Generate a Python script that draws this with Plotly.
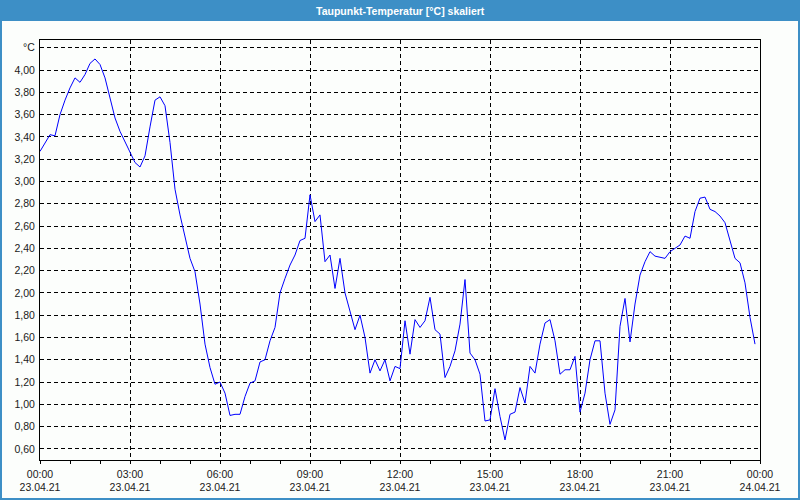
import pandas as pd
import plotly.graph_objects as go

# ---- data -------------------------------------------------------------
start_time = "2021-04-23 00:00"
step_minutes = 10
dewpoint = [
    3.27, 3.34, 3.42, 3.41, 3.60, 3.73, 3.84, 3.93, 3.89, 3.96,
    4.06, 4.10, 4.05, 3.93, 3.76, 3.57, 3.45, 3.36, 3.27, 3.17,
    3.13, 3.23, 3.49, 3.73, 3.76, 3.68, 3.35, 2.93, 2.70, 2.50,
    2.31, 2.19, 1.90, 1.54, 1.33, 1.18, 1.20, 1.10, 0.90, 0.91,
    0.91, 1.07, 1.19, 1.21, 1.38, 1.40, 1.57, 1.69, 2.00, 2.13,
    2.25, 2.34, 2.47, 2.49, 2.88, 2.64, 2.70, 2.28, 2.34, 2.04,
    2.31, 2.00, 1.83, 1.67, 1.80, 1.60, 1.28, 1.40, 1.30, 1.40,
    1.21, 1.34, 1.32, 1.75, 1.45, 1.76, 1.69, 1.75, 1.96, 1.67,
    1.63, 1.24, 1.34, 1.48, 1.72, 2.12, 1.46, 1.40, 1.27, 0.85,
    0.86, 1.14, 0.89, 0.68, 0.91, 0.93, 1.15, 1.01, 1.34, 1.28,
    1.54, 1.73, 1.76, 1.57, 1.27, 1.31, 1.31, 1.43, 0.93, 1.10,
    1.40, 1.57, 1.57, 1.10, 0.82, 0.95, 1.70, 1.95, 1.56, 1.90,
    2.16, 2.28, 2.37, 2.33, 2.32, 2.31, 2.37, 2.40, 2.43, 2.51,
    2.49, 2.73, 2.85, 2.86, 2.75, 2.73, 2.69, 2.63, 2.46, 2.31,
    2.27, 2.09, 1.78, 1.54,
]
times = pd.date_range(start_time, periods=len(dewpoint), freq=f"{step_minutes}min")

x_tick_values = ["2021-04-23 00:00", "2021-04-23 03:00", "2021-04-23 06:00",
                 "2021-04-23 09:00", "2021-04-23 12:00", "2021-04-23 15:00",
                 "2021-04-23 18:00", "2021-04-23 21:00", "2021-04-24 00:00"]
x_tick_labels = ["00:00<br>23.04.21", "03:00<br>23.04.21", "06:00<br>23.04.21",
                 "09:00<br>23.04.21", "12:00<br>23.04.21", "15:00<br>23.04.21",
                 "18:00<br>23.04.21", "21:00<br>23.04.21", "00:00<br>24.04.21"]
y_tick_values = [0.6, 0.8, 1.0, 1.2, 1.4, 1.6, 1.8, 2.0, 2.2, 2.4,
                 2.6, 2.8, 3.0, 3.2, 3.4, 3.6, 3.8, 4.0, 4.2]
y_tick_labels = ["0,60", "0,80", "1,00", "1,20", "1,40", "1,60", "1,80", "2,00",
                 "2,20", "2,40", "2,60", "2,80", "3,00", "3,20", "3,40", "3,60",
                 "3,80", "4,00", "°C"]
title_text = "Taupunkt-Temperatur [°C] skaliert"

# ---- figure -----------------------------------------------------------
W, H = 800, 500
ML, MR, MT, MB = 40, 40, 40, 40
PW, PH = W - ML - MR, H - MT - MB

def px_x(px):
    return (px - ML) / PW

def px_y(py):
    return (H - MB - py) / PH

BLUE = "#3d8fc6"
BG = "#fcfefc"
FONT = "Liberation Sans"

fig = go.Figure()
fig.add_trace(go.Scatter(x=times, y=dewpoint, mode="lines",
                         line=dict(color="#0000ff", width=1), showlegend=False))

axis_common = dict(
    showgrid=True, gridcolor="black", gridwidth=1, griddash="4px,3px",
    showline=True, linecolor="black", linewidth=1, mirror=True,
    zeroline=False, automargin=False,
)

fig.update_layout(
    width=W, height=H, autosize=False,
    margin=dict(l=ML, r=MR, t=MT, b=MB, autoexpand=False),
    paper_bgcolor=BG, plot_bgcolor=BG,
    xaxis=dict(
        type="date",
        range=["2021-04-23 00:00", "2021-04-24 00:00"],
        tickmode="array", tickvals=x_tick_values, ticktext=x_tick_labels,
        ticks="outside", ticklen=3, tickcolor="black", ticklabelstandoff=1,
        tickfont=dict(family=FONT, size=10.5, color="#1a1a1a"),
        minor=dict(ticks="outside", ticklen=3, tickcolor="black",
                   dtick=3600000, showgrid=False),
        **axis_common,
    ),
    yaxis=dict(
        range=[0.5, 4.27],
        tickmode="array", tickvals=y_tick_values, ticktext=y_tick_labels,
        ticks="", ticklabelstandoff=2,
        tickfont=dict(family=FONT, size=10.5, color="#1a1a1a"),
        **axis_common,
    ),
    shapes=[
        dict(type="rect", xref="paper", yref="paper", layer="above",
             x0=px_x(0), x1=px_x(W), y0=px_y(21), y1=px_y(0),
             fillcolor=BLUE, line=dict(width=0)),
        dict(type="rect", xref="paper", yref="paper", layer="above",
             x0=px_x(1), x1=px_x(W - 1), y0=px_y(H - 1), y1=px_y(1),
             fillcolor="rgba(0,0,0,0)", line=dict(color=BLUE, width=2)),
    ],
    annotations=[
        dict(text="<b>" + title_text + "</b>", xref="paper", yref="paper",
             x=0.5, y=px_y(11), xanchor="center", yanchor="middle",
             showarrow=False, font=dict(family=FONT, size=10.5, color="white")),
    ],
)

fig.write_html("out.html",
               config={"displayModeBar": False},
               post_script="document.body.style.margin='0px';"
                           "document.body.style.overflow='hidden';")
